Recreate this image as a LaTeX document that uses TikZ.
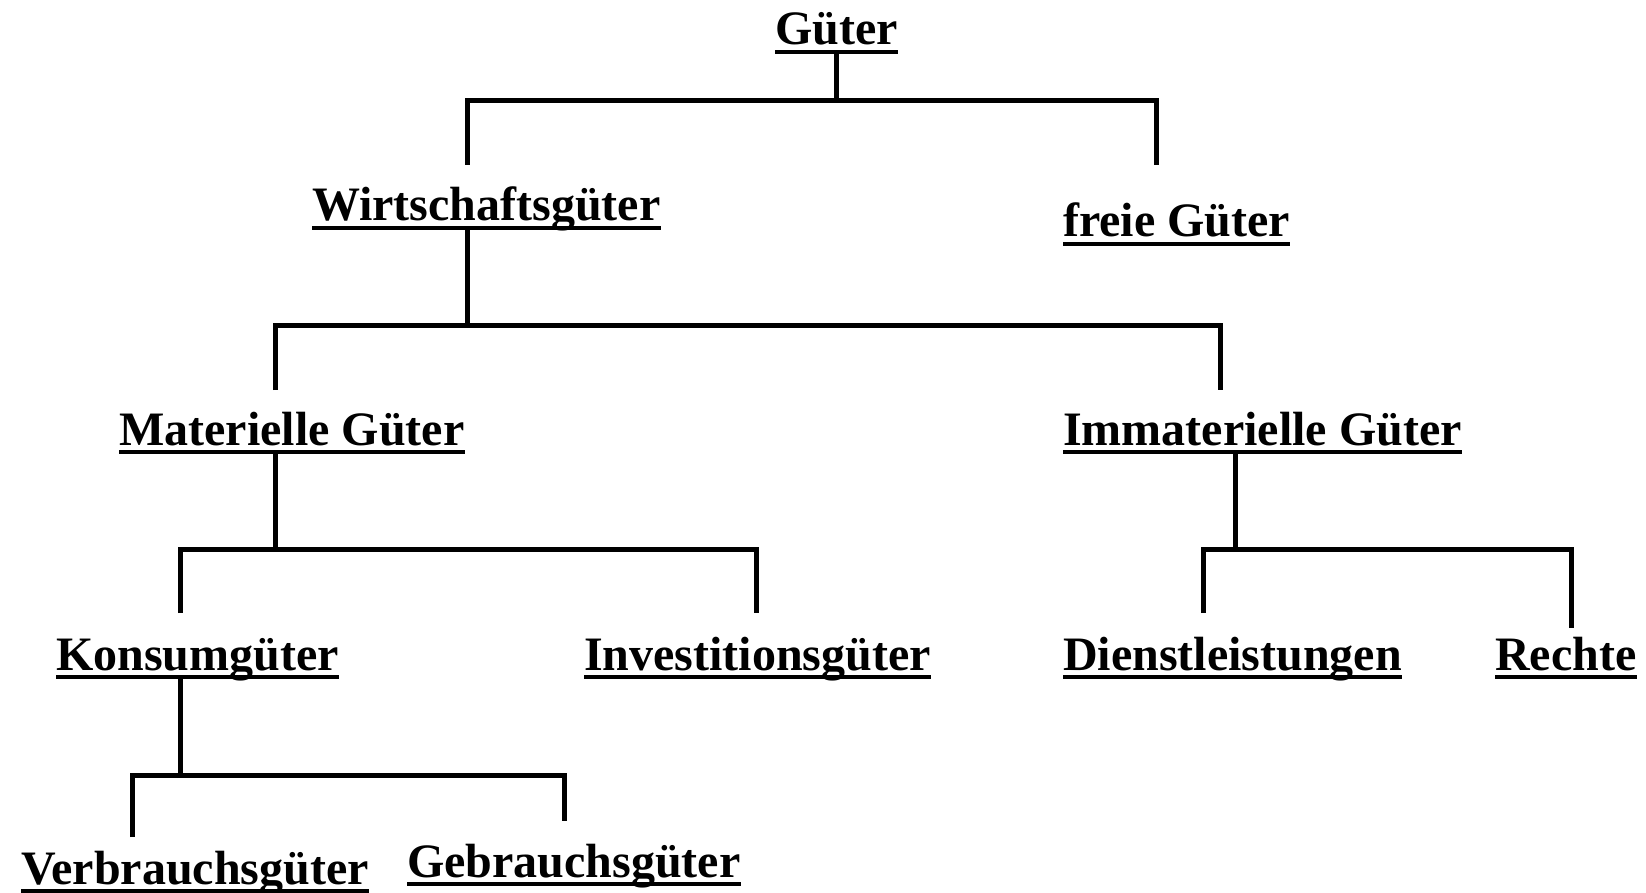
\documentclass[tikz,border=0pt]{standalone}
\usepackage{fontspec}
\setmainfont{Liberation Serif}
\begin{document}
\begin{tikzpicture}[x=1pt,y=-1pt,
  term/.style={anchor=base west, inner sep=0pt, text depth=7pt,
    font=\fontsize{48}{50}\selectfont\bfseries},
  ul/.style={line width=4.5pt},
  link/.style={line width=5pt}]
\useasboundingbox (0,0) rectangle (1646,893);

% terms of the classification
\node[term] (g)   at (775,45)   {Güter};
\node[term] (wg)  at (312,221)  {Wirtschaftsgüter};
\node[term] (fg)  at (1063,237) {freie Güter};
\node[term] (mg)  at (119,445)  {Materielle Güter};
\node[term] (ig)  at (1063,445) {Immaterielle Güter};
\node[term] (kg)  at (56,670)   {Konsumgüter};
\node[term] (inv) at (584,670)  {Investitionsgüter};
\node[term] (dl)  at (1063,670) {Dienstleistungen};
\node[term] (re)  at (1495,670) {Rechte};
\node[term] (vb)  at (21,884)   {Verbrauchsgüter};
\node[term] (gb)  at (407,877)  {Gebrauchsgüter};

% underlines
\foreach \n in {g,wg,fg,mg,ig,kg,inv,dl,re,vb,gb}
  \draw[ul] (\n.south west) -- (\n.south east);

% junctions and open ends of the tree
\coordinate (j1) at (836,101);
\coordinate (wg-in) at (467,165);
\coordinate (fg-in) at (1156,165);
\coordinate (j2) at (467,325);
\coordinate (mg-in) at (275,390);
\coordinate (ig-in) at (1220,390);
\coordinate (j3) at (275,549);
\coordinate (kg-in) at (180,613);
\coordinate (inv-in) at (756,613);
\coordinate (j4) at (1235,549);
\coordinate (dl-in) at (1203,613);
\coordinate (re-in) at (1571,628);
\coordinate (j5) at (180,775);
\coordinate (vb-in) at (132,837);
\coordinate (gb-in) at (564,821);

% branches
\draw[link] (g.south -| j1) -- (j1);
\draw[link] (wg-in) |- (j1) -| (fg-in);
\draw[link] (wg.south -| j2) -- (j2);
\draw[link] (mg-in) |- (j2) -| (ig-in);
\draw[link] (mg.south -| j3) -- (j3);
\draw[link] (kg-in) |- (j3) -| (inv-in);
\draw[link] (ig.south -| j4) -- (j4);
\draw[link] (dl-in) |- (j4) -| (re-in);
\draw[link] (kg.south -| j5) -- (j5);
\draw[link] (vb-in) |- (j5) -| (gb-in);
\end{tikzpicture}
\end{document}
